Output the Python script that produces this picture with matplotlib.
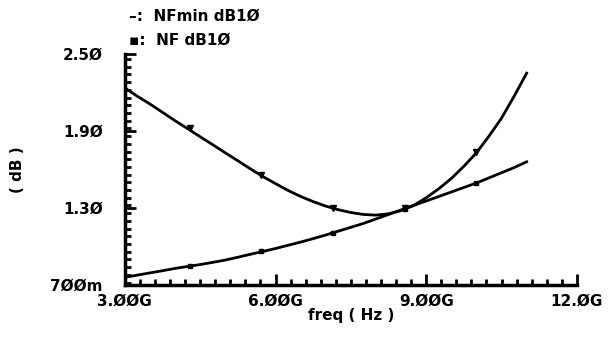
import numpy as np
import matplotlib
matplotlib.use("Agg")
import matplotlib.pyplot as plt
from matplotlib.ticker import MultipleLocator

# freq in GHz, values in dB
freq = [3.0, 3.25, 3.5, 3.75, 4.0, 4.25, 4.5, 4.75, 5.0, 5.25, 5.5, 5.75, 6.0, 6.25, 6.5, 6.75,
        7.0, 7.25, 7.5, 7.75, 8.0, 8.25, 8.5, 8.75, 9.0, 9.25, 9.5, 9.75, 10.0, 10.25, 10.5, 10.75, 11.0]
nf = [2.235, 2.17, 2.11, 2.045, 1.98, 1.918, 1.855, 1.793, 1.73, 1.668, 1.605, 1.545, 1.49, 1.437,
      1.39, 1.35, 1.315, 1.287, 1.265, 1.25, 1.245, 1.255, 1.28, 1.32, 1.38, 1.45, 1.53, 1.625,
      1.73, 1.86, 2.00, 2.17, 2.35]
nfmin = [0.76, 0.778, 0.795, 0.812, 0.83, 0.845, 0.86, 0.877, 0.895, 0.917, 0.94, 0.962, 0.985,
         1.01, 1.035, 1.062, 1.09, 1.12, 1.15, 1.18, 1.215, 1.25, 1.285, 1.32, 1.355, 1.39, 1.425,
         1.46, 1.495, 1.535, 1.575, 1.615, 1.66]

# marker positions
mark_freq = [4.29, 5.71, 7.14, 8.57, 10.0]
nf_mark = [1.92, 1.56, 1.30, 1.30, 1.74]
nfmin_mark = [0.845, 0.965, 1.105, 1.295, 1.495]

yticks = [0.7, 1.3, 1.9, 2.5]
ylabels = ["7ØØm", "1.3Ø", "1.9Ø", "2.5Ø"]
xticks = [3, 6, 9, 12]
xlabels = ["3.ØØG", "6.ØØG", "9.ØØG", "12.ØG"]

fig = plt.figure(figsize=(6.15, 3.37), dpi=100)
ax = fig.add_axes([0.203, 0.154, 0.735, 0.686])

ax.plot(freq, nf, color="black", lw=2)
ax.plot(freq, nfmin, color="black", lw=2)
ax.plot(mark_freq, nf_mark, ls="none", marker="v", ms=4, color="black")
ax.plot(mark_freq, nfmin_mark, ls="none", marker="s", ms=3.5, color="black")

ax.set_xlim(3, 12)
ax.set_ylim(0.7, 2.5)
ax.set_xticks(xticks)
ax.set_xticklabels(xlabels, fontsize=11, fontweight="bold")
ax.set_yticks(yticks)
ax.set_yticklabels(ylabels, fontsize=11, fontweight="bold")
ax.xaxis.set_minor_locator(MultipleLocator(0.3))
ax.yaxis.set_minor_locator(MultipleLocator(0.06))
ax.tick_params(which="both", direction="in", width=2, color="black")
ax.tick_params(which="major", length=8, pad=6)
ax.tick_params(which="minor", length=4)
ax.tick_params(axis="y", pad=16)

for s in ["top", "right"]:
    ax.spines[s].set_visible(False)
for s in ["left", "bottom"]:
    ax.spines[s].set_linewidth(2.5)

ax.set_xlabel("freq ( Hz )", fontsize=11, fontweight="bold", labelpad=0)
ax.set_ylabel("( dB )", fontsize=11, fontweight="bold", labelpad=18)

fig.text(0.21, 0.952, "\u2013:  NFmin dB1Ø", fontsize=11, fontweight="bold", va="center")
fig.text(0.21, 0.88, "\u25aa:  NF dB1Ø", fontsize=11, fontweight="bold", va="center")

fig.savefig("out.png", dpi=100)
